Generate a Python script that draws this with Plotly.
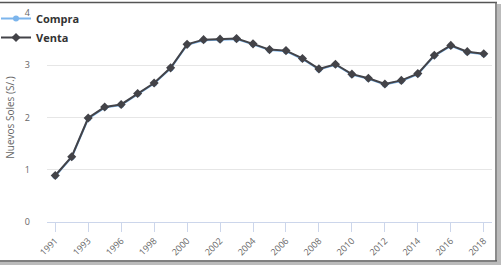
import plotly.graph_objects as go

years = [1991, 1992, 1993, 1995, 1996, 1997, 1998, 1999, 2000, 2001, 2002, 2003, 2004,
         2005, 2006, 2007, 2008, 2009, 2010, 2011, 2012, 2013, 2014, 2015, 2016, 2017, 2018]
venta = [0.89, 1.25, 1.99, 2.20, 2.25, 2.46, 2.66, 2.95, 3.40, 3.49, 3.50, 3.51, 3.41,
         3.30, 3.28, 3.13, 2.93, 3.02, 2.83, 2.75, 2.64, 2.71, 2.84, 3.19, 3.38, 3.26, 3.22]
compra = [0.88, 1.24, 1.98, 2.19, 2.24, 2.45, 2.65, 2.94, 3.39, 3.48, 3.49, 3.50, 3.40,
          3.29, 3.27, 3.12, 2.92, 3.01, 2.82, 2.74, 2.63, 2.70, 2.83, 3.18, 3.37, 3.25, 3.21]
y_ticks = [0, 1, 2, 3, 4]
x_labels = [str(y) for y in years]

W, H = 504, 267
L, R, T, B = 47, 12, 13, 45
PW, PH = W - L - R, H - T - B


def px(x):
    return (x - L) / PW


def py(y):
    return (H - B - y) / PH


fig = go.Figure()
idx = list(range(len(years)))
fig.add_trace(go.Scatter(
    x=idx, y=compra, name="Compra", mode="lines+markers",
    line=dict(color="#7cb5ec", width=2),
    marker=dict(symbol="circle", size=6, color="#7cb5ec")))
fig.add_trace(go.Scatter(
    x=idx, y=venta, name="Venta", mode="lines+markers",
    line=dict(color="#434348", width=2),
    marker=dict(symbol="diamond", size=7, color="#434348")))

shapes = [
    dict(type="line", xref="paper", yref="paper", x0=px(0), x1=px(497), y0=py(2.5), y1=py(2.5),
         line=dict(color="#555555", width=1.5)),
    dict(type="line", xref="paper", yref="paper", x0=px(496), x1=px(496), y0=py(2), y1=py(261),
         line=dict(color="#666666", width=1.5)),
    dict(type="rect", xref="paper", yref="paper", x0=px(497), x1=px(501), y0=py(4), y1=py(264),
         line=dict(width=0), fillcolor="#bbbbbb"),
    dict(type="line", xref="paper", yref="paper", x0=px(0), x1=px(497), y0=py(261), y1=py(261),
         line=dict(color="#555555", width=1.5)),
    dict(type="rect", xref="paper", yref="paper", x0=px(0), x1=px(501), y0=py(262), y1=py(265),
         line=dict(width=0), fillcolor="#bbbbbb"),
]

fig.update_layout(
    width=W, height=H,
    margin=dict(l=L, r=R, t=T, b=B, autoexpand=False),
    paper_bgcolor="white", plot_bgcolor="white",
    font=dict(family="Open Sans, sans-serif", color="#666666", size=9),
    showlegend=True,
    legend=dict(x=px(-4), y=py(4), xanchor="left", yanchor="top",
                bgcolor="rgba(0,0,0,0)",
                font=dict(size=11, color="#333333", family="Open Sans, sans-serif", weight="bold"),
                tracegroupgap=0, itemwidth=30),
    shapes=shapes,
    xaxis=dict(
        range=[-0.5, len(years) - 0.5],
        tickmode="array", tickvals=idx[::2], ticktext=x_labels[::2],
        tickangle=-45, ticks="outside", ticklen=9, tickcolor="#ccd6eb",
        showline=True, linecolor="#ccd6eb", linewidth=1,
        showgrid=False, zeroline=False,
        tickfont=dict(size=9, color="#666666")),
    yaxis=dict(
        range=[0, 4], tickvals=y_ticks,
        showgrid=True, gridcolor="#e6e6e6", gridwidth=1, zeroline=False,
        showline=False, ticks="", ticklabelstandoff=16,
        tickfont=dict(size=9, color="#666666"),
        title=dict(text="Nuevos Soles (S/.)", font=dict(size=10, color="#666666"), standoff=8)),
)

fig.write_html("out.html")
